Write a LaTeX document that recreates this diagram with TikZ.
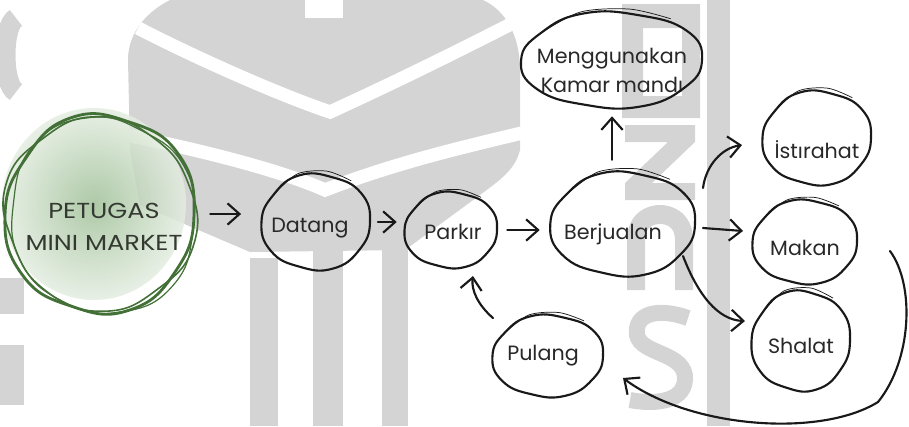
\documentclass[tikz,border=0pt]{standalone}
\usepackage{fontspec}
\setmainfont{Poppins}
\usetikzlibrary{arrows.meta,shapes.geometric,calc}

\definecolor{ink}{RGB}{25,25,25}
\definecolor{txt}{RGB}{40,40,40}
\definecolor{captxt}{RGB}{52,58,50}
\definecolor{wm}{RGB}{212,212,212}
\definecolor{leaf}{RGB}{66,112,54}
\definecolor{washin}{RGB}{160,192,152}
\definecolor{washout}{RGB}{228,237,225}

\pgfdeclarelayer{logo}
\pgfdeclarelayer{wash}
\pgfsetlayers{logo,wash,main}

\tikzset{
  stage/.style={ellipse, inner sep=0pt, text=txt, font=\fontsize{15.5}{22}\selectfont},
  blob/.style 2 args={minimum width={#1*1.5pt}, minimum height={#2*1.5pt}},
  loopline/.style={draw=ink, line width=1.6pt, line join=round},
  accent/.style={draw=ink, line width=0.55pt, line cap=round},
  arr/.style={draw=ink, line width=1.6pt, line cap=round,
    -{Straight Barb[length=9pt,width=16pt,line width=1.6pt]}},
}

% shift the ink of a label without changing its box: #1 right, #2 down
\newcommand\nudge[3]{\raisebox{-#2}[\height][\depth]{\kern#1\relax#3\kern-#1\relax}}

% hand-drawn closed loop of half-axes #1, #2 (pixels), style #3
\newcommand\sketchloop[3]{%
  \draw[#3] plot[smooth cycle, tension=0.8] coordinates {
    ({#1*1.00},{0})
    ({#1*0.809*1.03},{-#2*0.588*1.03})
    ({#1*0.309*0.98},{-#2*0.951*0.98})
    ({-#1*0.309*1.02},{-#2*0.951*1.02})
    ({-#1*0.809*0.97},{-#2*0.588*0.97})
    ({-#1*1.01},{0})
    ({-#1*0.809*1.03},{#2*0.588*1.03})
    ({-#1*0.309*0.98},{#2*0.951*0.98})
    ({#1*0.309*1.02},{#2*0.951*1.02})
    ({#1*0.809*0.99},{#2*0.588*0.99})};}

% outline plus a thin pencil stroke across the top
\newcommand\stageloop[3]{%
  \begin{scope}[shift={(#1.center)}]
    \sketchloop{#2}{#3}{loopline}
    \draw[accent] plot[smooth] coordinates {
      ({-#2*0.80},{-#3*0.55}) ({-#2*0.35},{-#3*1.00}) ({#2*0.20},{-#3*1.06}) ({#2*0.65},{-#3*0.86})};
  \end{scope}}

\begin{document}
\begin{tikzpicture}[x=0.75pt,y=-0.75pt]
\useasboundingbox (0,0) rectangle (909,426);

% ---------- faint logo in the background ----------
\begin{pgfonlayer}{logo}
\fill[wm] (170,0) -- (483,0) .. controls (505,10) and (520,35) .. (520,70) -- (520,150)
  .. controls (515,170) and (500,180) .. (480,195) -- (405,250) -- (250,252) -- (140,205)
  -- (130,150) -- (128,60) .. controls (128,30) and (150,10) .. (170,0) -- cycle;
\draw[white, line width=10pt] (138,28) .. controls (200,60) and (280,95) .. (330,112)
  .. controls (400,80) and (460,50) .. (515,22);
\draw[white, line width=10pt] (126,135) .. controls (200,150) and (280,170) .. (325,190)
  .. controls (390,165) and (450,150) .. (522,133);
\fill[white] (305,0) rectangle (343,18);
\fill[wm] (250,258) rectangle (278,426);
\fill[wm] (313,243) rectangle (343,426);
\fill[wm] (382,243) rectangle (408,426);
\fill[wm] (707,0) rectangle (730,426);
\fill[wm, even odd rule] (622,4) rectangle (700,118) (643,28) rectangle (682,96);
\fill[wm] (625,125) -- (695,125) -- (695,142) -- (652,183) -- (695,183) -- (695,200)
  -- (625,200) -- (625,183) -- (668,142) -- (625,142) -- cycle;
\fill[wm] (627,290) -- (627,240) .. controls (627,215) and (645,205) .. (660,205)
  .. controls (675,205) and (693,215) .. (693,240) -- (693,290) -- (675,290) -- (675,240)
  .. controls (675,228) and (668,224) .. (660,224) .. controls (652,224) and (645,228) .. (645,240)
  -- (645,290) -- cycle;
\draw[wm, line width=12pt] (688,318) .. controls (660,308) and (634,312) .. (637,335)
  .. controls (641,355) and (687,352) .. (685,380) .. controls (683,404) and (650,404) .. (630,400);
\draw[wm, line width=15pt] (16,18) .. controls (2,25) and (2,85) .. (16,92);
\fill[wm] (0,278) rectangle (24,314);
\fill[wm] (0,345) rectangle (24,405);
\end{pgfonlayer}

% ---------- stages ----------
\node[stage, circle, minimum size={190*0.75pt}, text=captxt] (petugas) at (100,214)
  {\nudge{3pt}{10.5pt}{\scalebox{1.24}[1.05]{\begin{tabular}{@{}c@{}}PETUGAS\\[1pt]MINI MARKET\end{tabular}}}};
\node[stage, blob={54}{48}] (datang) at (316,222) {\nudge{-4.5pt}{4.5pt}{Datang}};
\node[stage, blob={46}{38}] (parkir) at (451,230) {\nudge{1.5pt}{1.5pt}{Parkır}};
\node[stage, blob={72}{52}] (berj) at (623,224) {\nudge{-7.5pt}{7.5pt}{Berjualan}};
\node[stage, blob={90}{48}] (meng) at (612,60)
  {\nudge{0pt}{9pt}{\begin{tabular}{@{}c@{}}Menggunakan\\Kamar mandı\end{tabular}}};
\node[stage, blob={54}{47}] (istir) at (817,138) {\nudge{0pt}{9pt}{İstırahat}};
\node[stage, blob={52}{42}] (makan) at (805,242) {\nudge{0pt}{4.5pt}{Makan}};
\node[stage, blob={49}{50}] (shalat) at (801,341) {\nudge{0pt}{3.75pt}{Shalat}};
\node[stage, blob={55}{41}] (pulang) at (548,356) {\nudge{-3.75pt}{0pt}{Pulang}};

% watercolour disc under the label, with three pencil rings
\begin{pgfonlayer}{wash}
  \begin{scope}[shift={(petugas.center)}]
    \shade[inner color=washin, outer color=washout, opacity=0.85]
      (-6,-10) circle[x radius=92, y radius=96];
  \end{scope}
\end{pgfonlayer}
\begin{scope}[shift={(petugas.center)}]
  \sketchloop{94}{99}{draw=leaf, line width=2.1pt}
  \begin{scope}[rotate=55, xscale=0.98]
    \sketchloop{95}{97}{draw=leaf, line width=1.2pt}
  \end{scope}
  \begin{scope}[rotate=-80, shift={(2,-3)}]
    \sketchloop{98}{92}{draw=leaf, line width=0.9pt}
  \end{scope}
\end{scope}

\stageloop{datang}{54}{48}
\stageloop{parkir}{46}{38}
\stageloop{berj}{72}{52}
\stageloop{meng}{90}{48}
\stageloop{istir}{54}{47}
\stageloop{makan}{52}{42}
\stageloop{shalat}{49}{50}
\stageloop{pulang}{55}{41}

% ---------- flow ----------
\draw[arr, shorten <=11.25pt, shorten >=15pt] (petugas.east) -- (petugas.east -| datang.west);
\draw[arr, shorten <=5.25pt, shorten >=6pt] (datang.east) -- (datang.east -| parkir.west);
\draw[arr, shorten <=7.5pt, shorten >=8.25pt] (parkir.east) -- (parkir.east -| berj.west);
\draw[arr, shorten <=9pt, shorten >=6pt] (meng.south |- berj.north) -- (meng.south);
\draw[arr] ($(berj.center)+(80,-36)$) .. controls ($(berj.center)+(83,-59)$)
  and ($(istir.center)+(-95,10)$) .. ($(istir.center)+(-75,7)$);
\draw[arr] ($(berj.center)+(80,4)$) -- ($(makan.center)+(-62,-11)$);
\draw[arr] ($(berj.center)+(60,32)$) .. controls ($(berj.center)+(75,71)$)
  and ($(shalat.center)+(-83,-21)$) .. ($(shalat.center)+(-56,-20)$);
\draw[arr] ($(makan.center)+(85,9)$) .. controls ($(makan.center)+(110,43)$)
  and ($(shalat.center)+(111,19)$) .. ($(shalat.center)+(77,61)$)
  .. controls ($(shalat.center)+(19,97)$) and ($(pulang.center)+(142,72)$)
  .. ($(pulang.center)+(75,22)$);
\draw[arr] ($(pulang.center)+(-55,-38)$) .. controls ($(pulang.center)+(-70,-51)$)
  and ($(parkir.center)+(20,60)$) .. ($(parkir.center)+(22,46)$);
\end{tikzpicture}
\end{document}
